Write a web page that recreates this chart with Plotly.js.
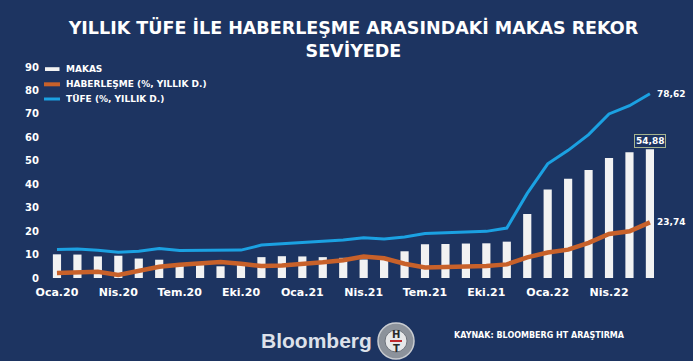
<!DOCTYPE html>
<html>
<head>
<meta charset="utf-8">
<script src="https://cdn.plot.ly/plotly-3.0.1.min.js"></script>
<style>html,body{margin:0;padding:0;background:#1d3461;}#chart{width:693px;height:361px;}</style>
</head>
<body>
<div id="chart"></div>
<script>
// ---- data ----
const months = ["Oca.20","Şub.20","Mar.20","Nis.20","May.20","Haz.20","Tem.20","Ağu.20","Eyl.20","Eki.20","Kas.20","Ara.20",
                "Oca.21","Şub.21","Mar.21","Nis.21","May.21","Haz.21","Tem.21","Ağu.21","Eyl.21","Eki.21","Kas.21","Ara.21",
                "Oca.22","Şub.22","Mar.22","Nis.22","May.22","Haz.22"];
const tufe = [12.15,12.37,11.86,10.94,11.39,12.62,11.76,11.77,11.75,11.89,14.03,14.60,
              14.97,15.61,16.19,17.14,16.59,17.53,18.95,19.25,19.58,19.89,21.31,36.08,
              48.69,54.44,61.14,69.97,73.50,78.62];
const haberlesme = [2.1,2.4,2.7,1.3,3.1,4.8,5.7,6.3,6.8,6.1,5.1,5.3,
                    5.8,6.7,7.6,9.2,8.4,6.1,4.5,4.7,4.9,5.1,5.8,8.8,
                    10.9,12.1,15.0,18.8,19.9,23.74];
const makas = [10.1,10.0,9.2,9.5,8.3,7.8,6.1,5.5,5.0,5.8,8.9,9.3,
               9.2,8.9,8.6,7.9,8.2,11.4,14.4,14.5,14.7,14.8,15.5,27.3,
               37.8,42.3,46.1,51.2,53.6,54.88];
const tickLabels = ["Oca.20","Nis.20","Tem.20","Eki.20","Oca.21","Nis.21","Tem.21","Eki.21","Oca.22","Nis.22"];
const yTicks = [0,10,20,30,40,50,60,70,80,90];
const seriesNames = ["MAKAS","HABERLEŞME (%, YILLIK D.)","TÜFE (%, YILLIK D.)"];
const seriesColors = ["#f2f2f2","#c8612a","#1ba1e2"];
const titleText = "YILLIK TÜFE İLE HABERLEŞME ARASINDAKİ MAKAS REKOR<br>SEVİYEDE";
const sourceText = "KAYNAK: BLOOMBERG HT ARAŞTIRMA";

const fmt = v => v.toFixed(2).replace('.', ',');
const FONT = "DejaVu Sans, Verdana, sans-serif";
const BG = "#1d3461";
const W = 693, H = 361, L = 40, R = 30, T = 67, B = 83;
const PW = W - L - R, PH = H - T - B;
const px = x => (x - L) / PW;
const py = y => (H - B - y) / PH;

const last = months.length - 1;

const traces = [
  {type:'bar', name:seriesNames[0], x:months, y:makas, marker:{color:seriesColors[0]}, showlegend:false},
  {type:'scatter', mode:'lines', name:seriesNames[1], x:months, y:haberlesme, line:{color:seriesColors[1], width:4.5}, cliponaxis:false, showlegend:false},
  {type:'scatter', mode:'lines', name:seriesNames[2], x:months, y:tufe, line:{color:seriesColors[2], width:3}, cliponaxis:false, showlegend:false}
];

const boldFont = (size, color) => ({family:FONT, size:size, color:color || '#ffffff', weight:'bold'});

// legend drawn as key shapes + text
const legendY = [69, 84.3, 99];
const legendShapes = [
  {type:'rect', xref:'paper', yref:'paper', x0:px(45), x1:px(59.5), y0:py(67.2), y1:py(71), fillcolor:seriesColors[0], line:{width:0}},
  {type:'line', xref:'paper', yref:'paper', x0:px(44), x1:px(60), y0:py(legendY[1]), y1:py(legendY[1]), line:{color:seriesColors[1], width:4}},
  {type:'line', xref:'paper', yref:'paper', x0:px(44), x1:px(60), y0:py(legendY[2]), y1:py(legendY[2]), line:{color:seriesColors[2], width:3}}
];
const legendTexts = seriesNames.map((n, i) => ({
  x:px(64), y:py(legendY[i]), xref:'paper', yref:'paper', text:n, showarrow:false, xanchor:'left', yanchor:'middle',
  font:boldFont(9)
}));

const layout = {
  width:W, height:H,
  paper_bgcolor:BG, plot_bgcolor:BG,
  margin:{l:L, r:R, t:T, b:B},
  font:{family:FONT, color:'#ffffff', size:10, weight:'bold'},
  title:{text:titleText, x:0.51, xanchor:'center', y:1-34/H, yanchor:'top', yref:'container',
         font:boldFont(17.5)},
  bargap:0.6,
  showlegend:false,
  xaxis:{type:'category', range:[-0.83, 29.64], tickmode:'array', tickvals:tickLabels, ticktext:tickLabels,
         showgrid:false, zeroline:false, showline:false, ticks:'', ticklabelstandoff:6,
         tickfont:boldFont(11), fixedrange:true},
  yaxis:{range:[0,90], tickmode:'array', tickvals:yTicks, showgrid:false, zeroline:false, showline:false, ticks:'',
         tickfont:boldFont(10), fixedrange:true},
  annotations:[
    {x:months[last], y:tufe[last], xref:'x', yref:'y', text:fmt(tufe[last]), showarrow:false, xanchor:'left', xshift:5,
     font:boldFont(9)},
    {x:months[last], y:haberlesme[last], xref:'x', yref:'y', text:fmt(haberlesme[last]), showarrow:false, xanchor:'left', xshift:5,
     font:boldFont(9)},
    {x:months[last], y:makas[last], xref:'x', yref:'y', text:fmt(makas[last]), showarrow:false, xanchor:'center', yanchor:'bottom', yshift:1,
     bordercolor:'#a6b48e', borderwidth:1, borderpad:1, bgcolor:BG, font:boldFont(9)},
    {x:px(316), y:py(340), xref:'paper', yref:'paper', text:'Bloomberg', showarrow:false, xanchor:'center', yanchor:'middle',
     font:{family:'Liberation Sans, Arial, sans-serif', size:21, color:'#dde1ea'}},
    {x:px(396), y:py(334), xref:'paper', yref:'paper', text:'H', showarrow:false, xanchor:'center', yanchor:'middle',
     font:boldFont(10, '#2a2a2a')},
    {x:px(396), y:py(348), xref:'paper', yref:'paper', text:'T', showarrow:false, xanchor:'center', yanchor:'middle',
     font:boldFont(10, '#2a2a2a')},
    {x:px(452), y:py(335), xref:'paper', yref:'paper', text:sourceText, showarrow:false, xanchor:'left', yanchor:'middle',
     font:boldFont(8)}
  ].concat(legendTexts),
  shapes:[
    {type:'circle', xref:'paper', yref:'paper', x0:px(378), x1:px(414), y0:py(323), y1:py(359), fillcolor:'#8c929b', line:{color:'#c9ccd1', width:1.5}},
    {type:'circle', xref:'paper', yref:'paper', x0:px(385), x1:px(407), y0:py(330), y1:py(352), fillcolor:'#e6e7e9', line:{color:'#6d737c', width:1}},
    {type:'line', xref:'paper', yref:'paper', x0:px(390), x1:px(402), y0:py(341), y1:py(341), line:{color:'#c0282d', width:2}}
  ].concat(legendShapes)
};

Plotly.newPlot('chart', traces, layout, {displayModeBar:false, staticPlot:true});
</script>
</body>
</html>
